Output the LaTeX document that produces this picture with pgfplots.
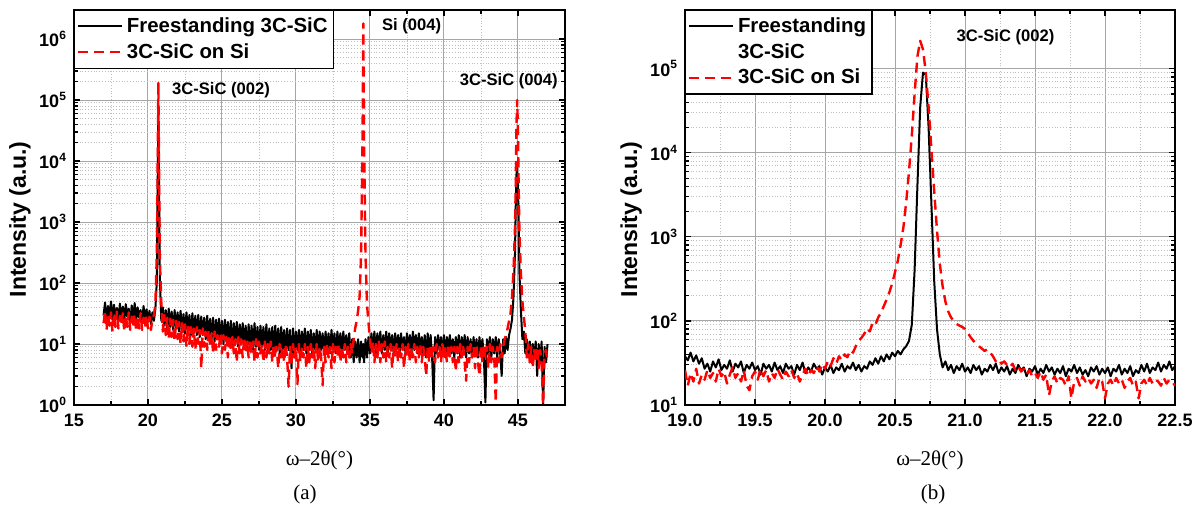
\documentclass[border=0pt]{standalone}
\usepackage{fontspec}
\setmainfont{Liberation Sans}
\newfontfamily\serif{Liberation Serif}
\usepackage{pgfplots}
\pgfplotsset{compat=1.18}
\usepackage{pgfplotstable}

% omega-2theta scans, full range: x, freestanding (f), on Si (s)
\pgfplotstableread{
x f s
17.0 30 22
17.1 48 35
17.2 24 17
17.3 42 30
17.4 27 20
17.5 50 33
17.6 25 16
17.7 44 31
17.8 29 19
17.9 39 34
18.0 23 18
18.1 46 29
18.2 26 21
18.3 41 32
18.4 24 16
18.5 45 30
18.6 28 19
18.7 38 33
18.8 22 17
18.9 43 28
19.0 26 20
19.1 47 31
19.2 24 16
19.3 40 29
19.4 27 18
19.5 36 32
19.6 22 17
19.7 42 27
19.8 25 19
19.9 37 30
20.0 23 18
20.1 35 28
20.2 21 17
20.3 33 26
20.4 24 30
20.5 38 45
20.6 110 320
20.65 3200 6000
20.7 72000 190000
20.75 3500 7000
20.8 120 260
20.9 24 48
21.0 40 16
21.1 20 30
21.2 36 14
21.3 18 27
21.4 38 12
21.5 19 26
21.6 34 13
21.7 17 25
21.8 36 11
21.9 18 24
22.0 33 12
22.1 16 23
22.2 35 10
22.3 17 22
22.4 31 11
22.5 15 21
22.6 33 9
22.7 16 20
22.8 30 10
22.9 14 19
23.0 32 9
23.1 15 18
23.2 29 8
23.3 14 19
23.4 30 10
23.5 13 17
23.6 28 4
23.7 14 18
23.8 27 9
23.9 12 16
24.0 29 8
24.1 13 17
24.2 26 9
24.3 12 15
24.4 27 7
24.5 11 16
24.6 25 8
24.7 12 14
24.8 26 9
24.9 11 15
25.0 24 7
25.1 10 14
25.2 25 8
25.3 11 13
25.4 23 6
25.5 10 14
25.6 24 8
25.7 9 13
25.8 22 7
25.9 10 12
26.0 23 5
26.1 9 13
26.2 21 7
26.3 10 12
26.4 22 6
26.5 9 13
26.6 20 7
26.7 8 11
26.8 21 6
26.9 9 12
27.0 20 7
27.1 8 11
27.2 22 5
27.3 9 12
27.4 19 6
27.5 8 11
27.6 20 7
27.7 9 10
27.8 19 5
27.9 8 11
28.0 21 6
28.1 7 10
28.2 18 7
28.3 8 11
28.4 19 5
28.5 7 10
28.6 20 6
28.7 8 9
28.8 18 4
28.9 7 10
29.0 19 6
29.1 8 9
29.2 17 5
29.3 7 10
29.4 18 6
29.5 8 2
29.6 17 9
29.7 4 5
29.8 18 10
29.9 7 6
30.0 16 9
30.1 8 2.2
30.2 17 10
30.3 7 5
30.4 16 9
30.5 8 6
30.6 18 10
30.7 7 4
30.8 16 9
30.9 8 5
31.0 17 10
31.1 7 6
31.2 15 9
31.3 8 4
31.4 17 10
31.5 7 5
31.6 16 9
31.7 8 6
31.8 15 2.1
31.9 7 9
32.0 16 5
32.1 8 10
32.2 15 6
32.3 7 9
32.4 17 4
32.5 8 10
32.6 15 5
32.7 7 9
32.8 16 6
32.9 8 10
33.0 15 5
33.1 7 9
33.2 16 6
33.3 8 10
33.4 14 5
33.5 7 9
33.6 15 6
33.7 6 10
33.8 12 7
33.9 5 12
34.0 11 18
34.1 6 24
34.2 12 35
34.3 5 60
34.4 11 300
34.5 6 25000
34.55 10 1800000
34.6 5 22000
34.7 12 280
34.8 6 45
34.9 13 22
35.0 7 12
35.1 15 7
35.2 8 11
35.3 16 5
35.4 7 10
35.5 15 6
35.6 8 11
35.7 16 5
35.8 7 10
35.9 14 6
36.0 8 11
36.1 16 5
36.2 7 9
36.3 15 6
36.4 8 10
36.5 14 4
36.6 7 9
36.7 15 6
36.8 8 10
36.9 14 5
37.0 7 9
37.1 15 6
37.2 8 10
37.3 13 4
37.4 7 9
37.5 15 6
37.6 8 10
37.7 14 5
37.8 7 9
37.9 16 6
38.0 8 10
38.1 14 5
38.2 7 9
38.3 15 6
38.4 8 10
38.5 13 5
38.6 7 9
38.7 14 6
38.8 6 3
38.9 15 9
39.0 7 5
39.1 14 10
39.2 6 6
39.3 1.2 9
39.4 13 5
39.5 7 10
39.6 14 6
39.7 8 9
39.8 13 5
39.9 7 10
40.0 14 6
40.1 6 9
40.2 13 5
40.3 8 10
40.4 14 6
40.5 7 9
40.6 12 5
40.7 6 9
40.8 13 3.5
40.9 7 9
41.0 14 5
41.1 6 10
41.2 13 6
41.3 8 9
41.4 14 5
41.5 6 2.5
41.6 13 9
41.7 7 5
41.8 12 10
41.9 6 6
42.0 13 9
42.1 7 4
42.2 12 10
42.3 6 5
42.4 13 3
42.5 7 9
42.6 12 5
42.7 6 10
42.8 1.1 6
42.9 12 9
43.0 7 4
43.1 13 10
43.2 6 5
43.3 12 9
43.4 7 6
43.5 13 1.1
43.6 6 9
43.7 12 5
43.8 7 10
43.9 3 6
44.0 12 9
44.1 7 12
44.2 13 14
44.3 8 18
44.4 14 24
44.5 18 32
44.6 25 60
44.7 60 160
44.8 300 800
44.85 1800 4000
44.9 6000 40000
44.95 8500 100000
45.0 4000 30000
45.05 900 3500
45.1 150 700
45.2 35 140
45.3 12 50
45.4 16 28
45.5 7 16
45.6 12 6
45.7 6 10
45.8 11 5
45.9 5 9
46.0 10 4
46.1 6 8
46.2 11 5
46.3 3 9
46.4 10 4
46.5 5 8
46.6 11 5
46.7 1 1
46.8 9 7
46.9 5 8
47.0 10 5
}\fullscan

% zoom on the 3C-SiC (002) reflection
\pgfplotstableread{
x f s
19.00 38 26
19.02 34 17
19.04 42 24
19.06 33 19
19.08 39 27
19.10 31 18
19.12 36 23
19.14 27 20
19.16 31 26
19.18 25 21
19.20 33 24
19.22 28 19
19.24 35 27
19.26 26 22
19.28 30 25
19.30 27 18
19.32 34 23
19.34 25 28
19.36 31 21
19.38 28 24
19.40 33 19
19.42 24 26
19.44 30 17
19.46 27 15
19.48 32 22
19.50 26 25
19.52 29 20
19.54 23 27
19.56 31 22
19.58 27 26
19.60 30 19
19.62 25 24
19.64 32 21
19.66 26 27
19.68 29 23
19.70 24 20
19.72 31 25
19.74 27 22
19.76 29 26
19.78 23 21
19.80 30 24
19.82 26 19
19.84 32 23
19.86 24 27
19.88 28 22
19.90 25 26
19.92 31 24
19.94 27 29
19.96 29 25
19.98 23 31
20.00 28 27
20.02 25 33
20.04 30 29
20.06 24 36
20.08 28 31
20.10 26 38
20.12 31 34
20.14 25 40
20.16 29 37
20.18 27 45
20.20 32 42
20.22 26 50
20.24 30 58
20.26 25 63
20.28 29 70
20.30 27 82
20.32 33 75
20.34 30 95
20.36 36 90
20.38 31 110
20.40 38 125
20.42 33 150
20.44 40 180
20.46 35 220
20.48 42 280
20.50 38 380
20.52 44 520
20.54 40 800
20.56 46 1300
20.58 50 2600
20.60 58 6000
20.62 90 16000
20.64 400 50000
20.66 4000 140000
20.68 35000 215000
20.70 90000 170000
20.72 85000 90000
20.74 20000 35000
20.76 2500 11000
20.78 300 3500
20.80 80 1200
20.82 40 480
20.84 28 260
20.86 33 170
20.88 26 130
20.90 30 110
20.92 24 100
20.94 29 92
20.96 26 88
20.98 31 85
21.00 25 80
21.02 28 72
21.04 24 64
21.06 30 58
21.08 26 54
21.10 29 50
21.12 23 47
21.14 27 44
21.16 25 46
21.18 30 42
21.20 26 38
21.22 31 33
21.24 24 35
21.26 28 31
21.28 25 33
21.30 29 30
21.32 23 28
21.34 27 31
21.36 24 26
21.38 30 29
21.40 26 25
21.42 28 27
21.44 22 23
21.46 27 26
21.48 25 22
21.50 29 24
21.52 23 21
21.54 27 25
21.56 24 20
21.58 30 23
21.60 25 13
21.62 28 19
21.64 23 22
21.66 27 18
21.68 24 21
21.70 29 20
21.72 22 17
21.74 27 22
21.76 25 12
21.78 30 19
21.80 24 21
21.82 28 17
21.84 23 22
21.86 26 19
21.88 22 21
21.90 28 18
21.92 25 20
21.94 29 16
21.96 23 21
21.98 27 19
22.00 24 12
22.02 28 18
22.04 22 20
22.06 27 17
22.08 25 21
22.10 30 18
22.12 23 20
22.14 27 16
22.16 24 19
22.18 29 21
22.20 22 17
22.22 26 19
22.24 24 12
22.26 30 18
22.28 25 20
22.30 31 17
22.32 24 21
22.34 28 18
22.36 26 20
22.38 32 19
22.40 25 17
22.42 30 21
22.44 27 18
22.46 33 20
22.48 26 19
22.50 29 17
}\zoomscan

\pgfplotsset{
  every axis/.append style={
    scale only axis, height=197.5pt,
    axis line style={line width=0.75pt},
    grid=both,
    major grid style={black!35, line width=0.5pt},
    minor grid style={black!25, densely dotted, line width=0.4pt},
    tick style={black, line width=0.6pt},
    major tick length=3pt, minor tick length=2pt,
    tick label style={font=\bfseries\fontsize{9}{10}\selectfont},
    xticklabel style={yshift=-1pt},
    ylabel style={font=\bfseries\fontsize{11.5}{13}\selectfont},
    xlabel style={font=\fontsize{10.5}{12}\selectfont},
    legend cell align=left,
    legend style={at={(0,1)}, anchor=north west, draw=black, line width=0.6pt,
      fill=white, font=\bfseries\fontsize{10.2}{12}\selectfont,
      inner xsep=1pt, inner ysep=1.5pt, row sep=0pt},
  },
  every axis y label/.style={at={(axis description cs:-0.11,0.47)}, rotate=90, anchor=center},
  every axis x label/.style={at={(axis description cs:0.5,-0.139)}, anchor=center},
}

\begin{document}
\begin{tikzpicture}
\useasboundingbox (0,0) rectangle (600.5pt,-254.5pt);

\begin{axis}[
  ymode=log,
  at={(37pt,-202.5pt)}, anchor=south west, width=245.5pt,
  xmin=15, xmax=48.18, ymin=1, ymax=2.99e6,
  xtick={15,20,25,30,35,40,45}, xticklabels={15,20,25,30,35,40,45},
  minor x tick num=1,
  ytick={1,10,100,1000,10000,100000,1000000},
  yticklabels={10\textsuperscript{0},10\textsuperscript{1},10\textsuperscript{2},10\textsuperscript{3},10\textsuperscript{4},10\textsuperscript{5},10\textsuperscript{6}},
  ylabel={Intensity (a.u.)},
  xlabel={\serif ω–2θ(°)},
  legend image code/.code={\draw[#1] (0pt,0pt) -- (22pt,0pt);},
]
\addplot[black, line width=1pt, line join=round] table[x=x, y=f] {\fullscan};
\addlegendentry{Freestanding 3C-SiC}
\addplot[red, line width=1.2pt, dash pattern=on 5pt off 3pt, line join=round] table[x=x, y=s] {\fullscan};
\addlegendentry{3C-SiC on Si}
\node[anchor=west, font=\bfseries\fontsize{8.3}{10}\selectfont] at (axis cs:21.15,1.45e5) {3C-SiC (002)};
\node[anchor=west, font=\bfseries\fontsize{8.3}{10}\selectfont] at (axis cs:35.34,1.63e6) {Si (004)};
\node[anchor=west, font=\bfseries\fontsize{8.3}{10}\selectfont] at (axis cs:40.6,2.04e5) {3C-SiC (004)};
\end{axis}

\begin{axis}[
  ymode=log,
  at={(342.5pt,-202.5pt)}, anchor=south west, width=245pt,
  xmin=19, xmax=22.5, ymin=10, ymax=5.0e5,
  xtick={19,19.5,20,20.5,21,21.5,22,22.5},
  xticklabels={19.0,19.5,20.0,20.5,21.0,21.5,22.0,22.5},
  minor x tick num=1,
  ytick={10,100,1000,10000,100000},
  yticklabels={10\textsuperscript{1},10\textsuperscript{2},10\textsuperscript{3},10\textsuperscript{4},10\textsuperscript{5}},
  ylabel={Intensity (a.u.)},
  xlabel={\serif ω–2θ(°)},
  legend image code/.code={\draw[#1] (0pt,0pt) -- (22pt,0pt);},
]
\addplot[black, line width=1pt, line join=round] table[x=x, y=f] {\zoomscan};
\addlegendentry{Freestanding}
\addlegendimage{empty legend}
\addlegendentry{3C-SiC}
\addplot[red, line width=1.2pt, dash pattern=on 5pt off 3pt, line join=round] table[x=x, y=s] {\zoomscan};
\addlegendentry{3C-SiC on Si}
\node[anchor=west, font=\bfseries\fontsize{8.3}{10}\selectfont] at (axis cs:20.89,2.35e5) {3C-SiC (002)};
\end{axis}

\node[font=\serif\fontsize{10.5}{12}\selectfont] at (152.5pt,-247pt) {(a)};
\node[font=\serif\fontsize{10.5}{12}\selectfont] at (466.5pt,-247pt) {(b)};
\end{tikzpicture}
\end{document}
